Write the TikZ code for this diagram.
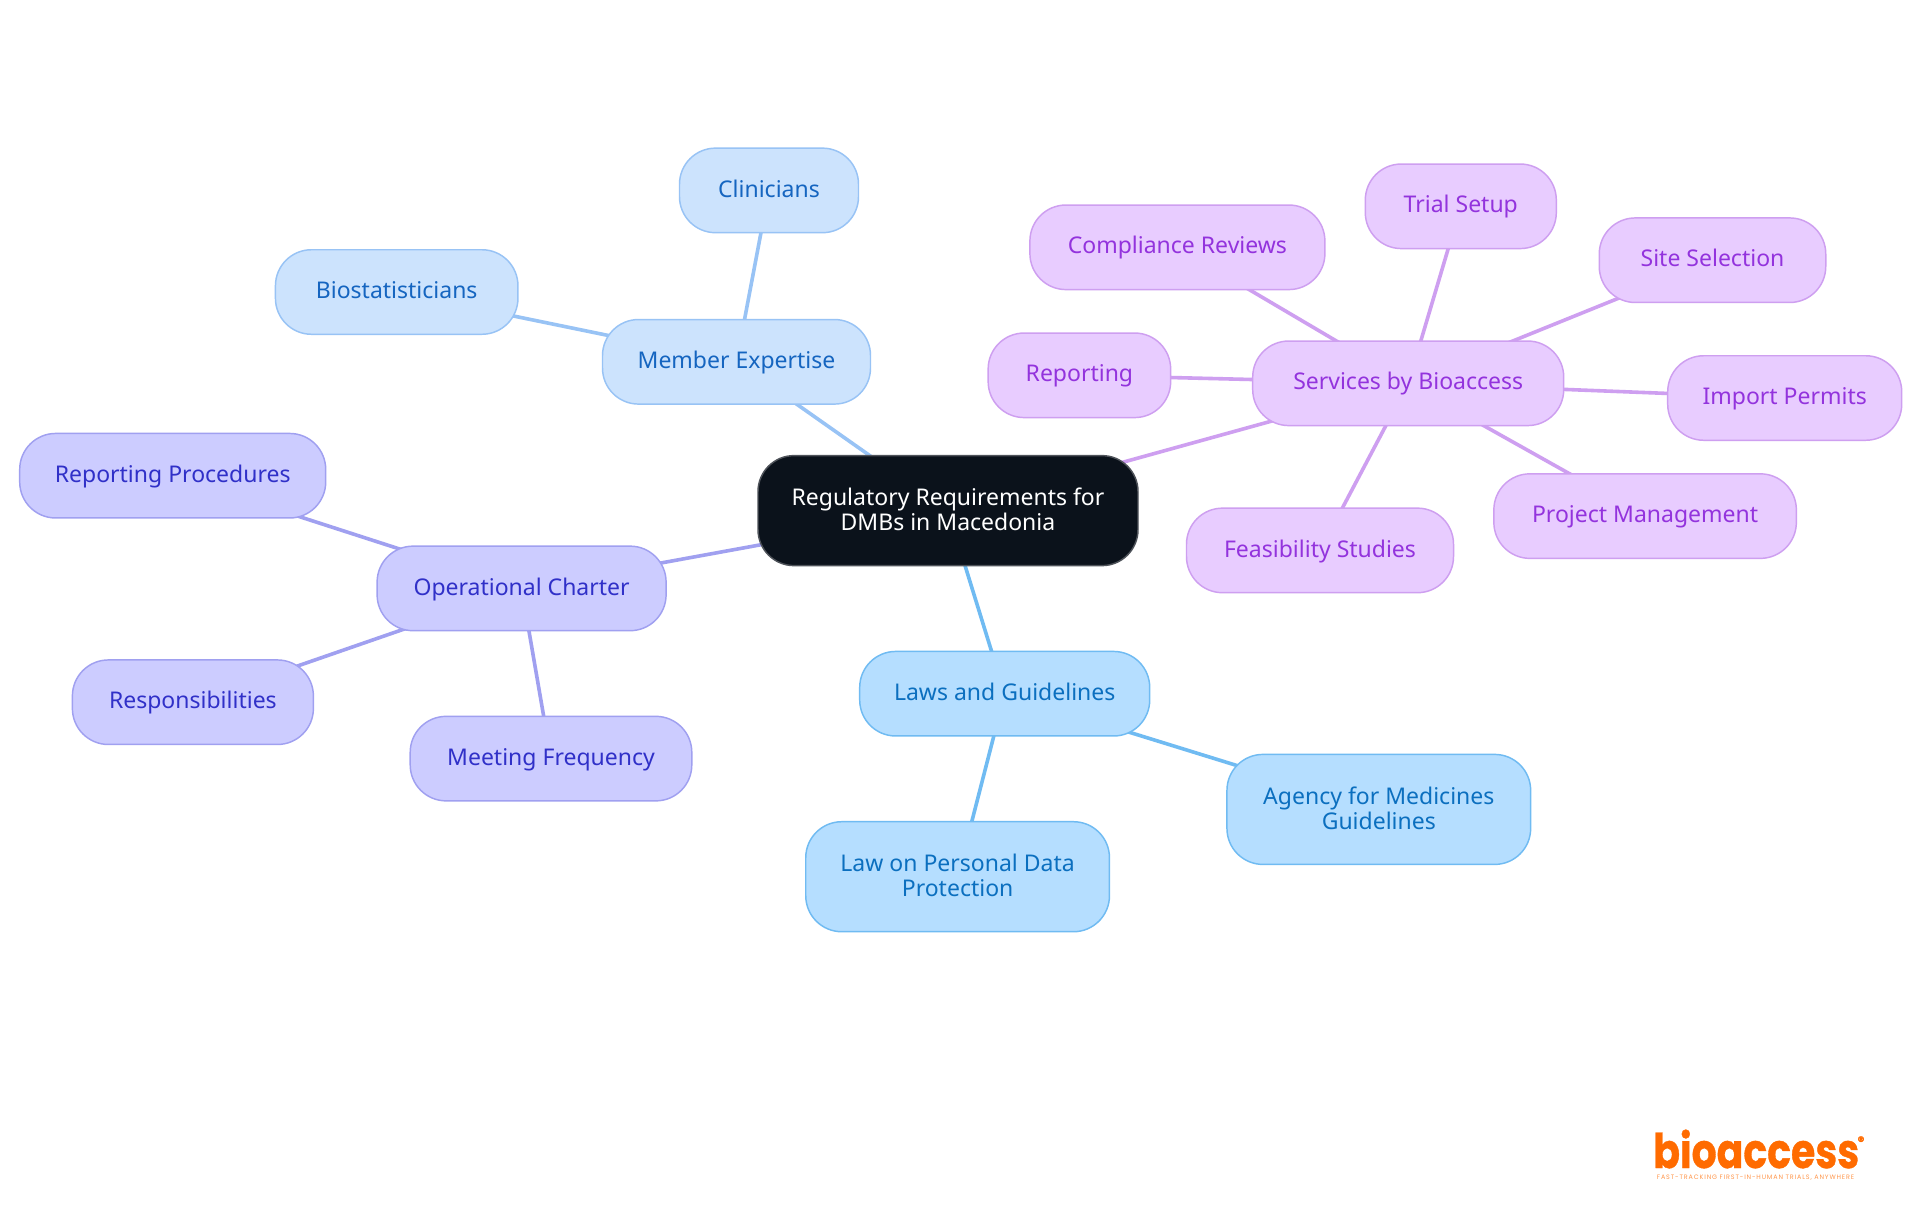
\documentclass[tikz,border=0pt]{standalone}
\usepackage{graphicx}
\usepackage{fontspec}
\setmainfont{Noto Sans}
\newfontfamily\logofont[BoldFeatures={FakeBold=0.8}]{Poppins}
\newfontfamily\tagfont[LetterSpace=13.5]{Poppins}
\pgfdeclarelayer{paper}
\pgfdeclarelayer{edges}
\pgfsetlayers{paper,edges,main}
\definecolor{rootfill}{HTML}{0B121B}
\definecolor{rootline}{HTML}{4F535A}
\definecolor{bluefill}{HTML}{CCE3FD}
\definecolor{blueline}{HTML}{98C3F5}
\definecolor{bluetext}{HTML}{1565C0}
\definecolor{indfill}{HTML}{CCCCFF}
\definecolor{indline}{HTML}{A0A0F0}
\definecolor{indtext}{HTML}{3030C8}
\definecolor{skyfill}{HTML}{B5DEFF}
\definecolor{skyline}{HTML}{70BBF2}
\definecolor{skytext}{HTML}{0B6FBF}
\definecolor{purfill}{HTML}{E8CCFF}
\definecolor{purline}{HTML}{CE9FF0}
\definecolor{purtext}{HTML}{9333DD}
\definecolor{logoorange}{HTML}{FF6B00}
\tikzset{
  x=0.75pt,y=-0.75pt,
  wdt/.style={minimum width=#1*0.75pt},
  mm/.style={rounded corners=27pt,draw,line width=1.1pt,align=center,inner sep=0pt,
    font=\fontsize{17.25}{18.4}\selectfont,minimum height=63.4pt,text height=14pt,text depth=4pt},
  tall/.style={minimum height=82.5pt,text height=31.4pt,text depth=2pt},
  rootn/.style={mm,tall,fill=rootfill,draw=rootline,text=white},
  bluen/.style={mm,fill=bluefill,draw=blueline,text=bluetext},
  indn/.style={mm,fill=indfill,draw=indline,text=indtext},
  skyn/.style={mm,fill=skyfill,draw=skyline,text=skytext},
  purn/.style={mm,fill=purfill,draw=purline,text=purtext},
  link/.style={line width=2.7pt},
}
\begin{document}
\begin{tikzpicture}
\begin{pgfonlayer}{paper}
\path[use as bounding box,fill=white] (0,0) rectangle (1920,1215);
\end{pgfonlayer}
\node[rootn,wdt=380] (root) at (948,510.6) {Regulatory Requirements for\\DMBs in Macedonia};
\node[bluen,wdt=268] (member) at (736.5,361.8) {Member Expertise};
\node[bluen,wdt=179] (clin) at (769,190.4) {Clinicians};
\node[bluen,wdt=242.5] (bio) at (396.7,292) {Biostatisticians};
\node[indn,wdt=289] (oper) at (521.6,588.4) {Operational Charter};
\node[indn,wdt=306] (rproc) at (172.7,475.7) {Reporting Procedures};
\node[indn,wdt=241] (resp) at (192.9,702.2) {Responsibilities};
\node[indn,wdt=281.6] (meet) at (551,758.6) {Meeting Frequency};
\node[skyn,wdt=290] (laws) at (1004.7,693.7) {Laws and Guidelines};
\node[skyn,tall,wdt=303.7] (agency) at (1378.8,809.4) {Agency for Medicines\\Guidelines};
\node[skyn,tall,wdt=303.7] (lawpd) at (957.6,876.7) {Law on Personal Data\\Protection};
\node[purn,wdt=311] (serv) at (1408.2,383.3) {Services by Bioaccess};
\node[purn,wdt=295] (comp) at (1177.4,247.3) {Compliance Reviews};
\node[purn,wdt=191] (trial) at (1460.8,206.3) {Trial Setup};
\node[purn,wdt=226.5] (site) at (1712.5,260.2) {Site Selection};
\node[purn,wdt=182.5] (rep) at (1079.4,375.3) {Reporting};
\node[purn,wdt=234] (imp) at (1784.7,398) {Import Permits};
\node[purn,wdt=302.5] (proj) at (1645.1,516.1) {Project Management};
\node[purn,wdt=267] (feas) at (1320,550.4) {Feasibility Studies};
\begin{pgfonlayer}{edges}
\draw[link,blueline] (root.center)--(member.center) (member.center)--(clin.center) (member.center)--(bio.center);
\draw[link,indline] (root.center)--(oper.center) (oper.center)--(rproc.center) (oper.center)--(resp.center) (oper.center)--(meet.center);
\draw[link,skyline] (root.center)--(laws.center) (laws.center)--(agency.center) (laws.center)--(lawpd.center);
\draw[link,purline] (root.center)--(serv.center) (serv.center)--(comp.center) (serv.center)--(trial.center) (serv.center)--(site.center) (serv.center)--(rep.center) (serv.center)--(imp.center) (serv.center)--(proj.center) (serv.center)--(feas.center);
\end{pgfonlayer}
\node[anchor=base west,inner sep=0pt,text=logoorange,font=\logofont\bfseries\fontsize{36}{36}\selectfont] (logo) at (1653,1168) {\scalebox{0.82}[1]{bioaccess}};
\node[anchor=center,inner sep=0pt,text=logoorange,font=\logofont\bfseries\fontsize{10}{10}\selectfont] (reg) at (1861,1141) {®};
\node[anchor=center,inner sep=0pt,text=logoorange!70,font=\tagfont\fontsize{4.8}{5}\selectfont] (tag) at (1755.5,1177.5) {FAST-TRACKING FIRST-IN-HUMAN TRIALS, ANYWHERE};
\end{tikzpicture}
\end{document}
